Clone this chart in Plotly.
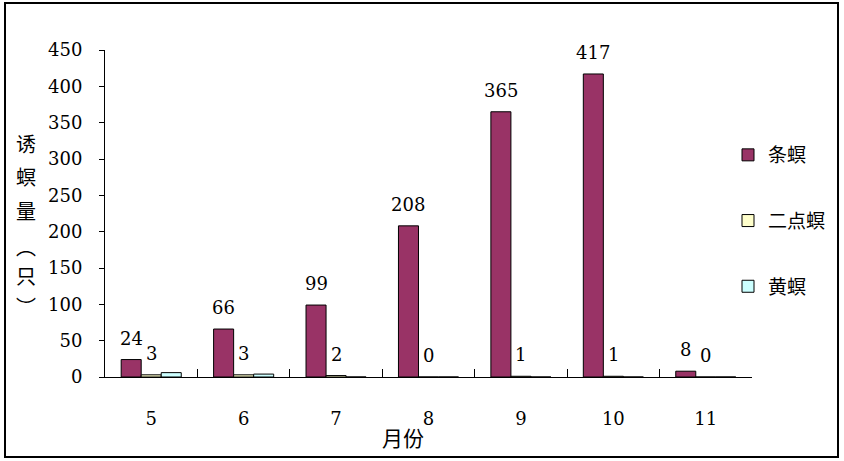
import plotly.graph_objs as go

months = ["5", "6", "7", "8", "9", "10", "11"]
tiao_ming = [24, 66, 99, 208, 365, 417, 8]
erdian_ming = [3, 3, 2, 0, 1, 1, 0]
huang_ming = [6, 4, 0, 0, 0, 0, 0]

series_names = ["条螟", "二点螟", "黄螟"]
series_colors = ["#993366", "#FFFFCC", "#CCFFFF"]

num_font = "DejaVu Serif"
cjk_font = "Noto Sans CJK SC"

# plot area in pixels
L, R, T, B = 105, 92, 50, 84
W = 844 - L - R
H = 461 - T - B
bargap = 0.35
bar_px = W / len(months) * (1 - bargap) / 3

fig = go.Figure()

all_vals = [tiao_ming, erdian_ming, huang_ming]
for name, vals, col in zip(series_names, all_vals, series_colors):
    fig.add_trace(go.Bar(
        x=months, y=vals, name=name,
        marker=dict(color=col, line=dict(color="black", width=1)),
        legendgroup=name,
    ))

# value labels for the first two series, above each bar
for i in range(2):
    for k, v in enumerate(all_vals[i]):
        fig.add_annotation(x=k, y=v, text=str(v), showarrow=False,
                           xanchor="center", yanchor="bottom",
                           xshift=(i - 1) * bar_px, yshift=9,
                           font=dict(family=num_font, size=18, color="black"))

fig.update_layout(
    width=844, height=461,
    margin=dict(l=L, r=R, t=T, b=B, autoexpand=False),
    paper_bgcolor="white", plot_bgcolor="white",
    barmode="group", bargap=bargap, bargroupgap=0,
    showlegend=True,
    legend=dict(x=(728 - L) / W, y=(377 - 136) / H, xanchor="left", yanchor="top",
                font=dict(family=cjk_font, size=19, color="black"),
                tracegroupgap=38, itemwidth=30, bgcolor="rgba(0,0,0,0)"),
    font=dict(family=num_font, color="black"),
)

fig.update_xaxes(
    type="category", range=[-0.5, len(months) - 0.5],
    automargin=False,
    showline=True, linecolor="black", linewidth=1,
    ticks="inside", tickson="boundaries", ticklen=8, tickcolor="black",
    tickfont=dict(family=num_font, size=18, color="black"),
    ticklabelstandoff=25,
    showgrid=False, zeroline=False,
)

fig.update_yaxes(
    automargin=False,
    range=[0, 450], dtick=50,
    showline=True, linecolor="black", linewidth=1,
    ticks="outside", ticklen=5, tickcolor="black",
    tickfont=dict(family=num_font, size=18, color="black"),
    ticklabelstandoff=13,
    showgrid=False, zeroline=False,
)

# outer frame around the whole chart
fig.add_shape(type="rect", xref="paper", yref="paper",
              x0=(5 - L) / W, x1=(838 - L) / W,
              y0=(377 - 457) / H, y1=(377 - 3) / H,
              line=dict(color="black", width=2), fillcolor="rgba(0,0,0,0)")

# vertical y axis title
ytitle_chars = ["诱", "螟", "量", "︵", "只", "︶"]
ytitle_px = [143, 176, 210, 246, 275, 306]
for ch, py in zip(ytitle_chars, ytitle_px):
    fig.add_annotation(text=ch, xref="paper", yref="paper",
                       x=(26 - L) / W, y=(377 - py) / H,
                       showarrow=False, xanchor="center", yanchor="middle",
                       font=dict(family=cjk_font, size=20, color="black"))

fig.add_annotation(text="月份", xref="paper", yref="paper",
                   x=(403 - L) / W, y=(377 - 437) / H,
                   showarrow=False, xanchor="center", yanchor="middle",
                   font=dict(family=cjk_font, size=21, color="black"))

fig.write_html("out.html", config={"displayModeBar": False},
               post_script="document.body.style.margin='0px';")
